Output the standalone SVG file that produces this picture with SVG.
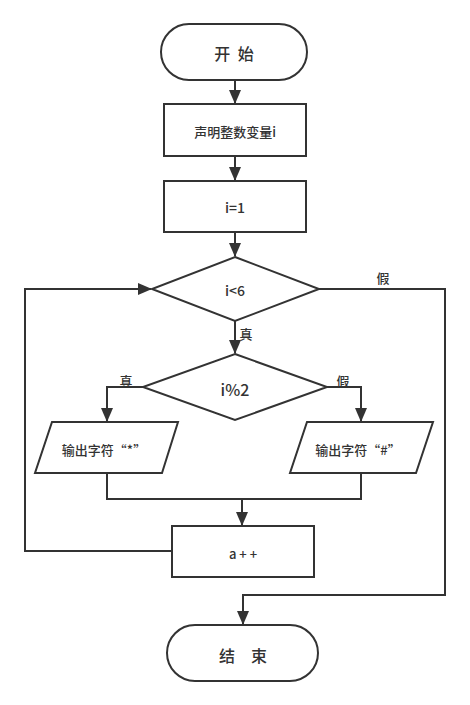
<svg xmlns="http://www.w3.org/2000/svg" width="470" height="705" viewBox="0 0 470 705">
<style>
.s{fill:#fff;stroke:#333;stroke-width:2}
.l{fill:none;stroke:#333;stroke-width:2}
.t{font-family:"Noto Sans CJK SC","Noto Sans",sans-serif;fill:#333;text-anchor:middle;dominant-baseline:central;font-weight:500}
</style>
<defs>
<marker id="a" markerUnits="userSpaceOnUse" markerWidth="14" markerHeight="12" refX="13" refY="6" orient="auto">
<path d="M0,0 L14,6 L0,12 Z" fill="#333"/>
</marker>
</defs>
<rect width="470" height="705" fill="#fff"/>
<g id="connectors">
<path class="l" d="M235,80 V103" marker-end="url(#a)"/>
<path class="l" d="M235,156 V180" marker-end="url(#a)"/>
<path class="l" d="M235,232 V256" marker-end="url(#a)"/>
<path class="l" d="M235,321 V353" marker-end="url(#a)"/>
<path class="l" d="M143,387 H107 V421" marker-end="url(#a)"/>
<path class="l" d="M327,387 H361 V421" marker-end="url(#a)"/>
<path class="l" d="M107,473 V499 H361 V473"/>
<path class="l" d="M242,499 V525" marker-end="url(#a)"/>
<path class="l" d="M172,551 H25 V289 H151" marker-end="url(#a)"/>
<path class="l" d="M319,289 H445 V595 H243 V624" marker-end="url(#a)"/>
<text class="t" x="246" y="333" font-size="13">真</text>
<text class="t" x="126" y="380" font-size="13">真</text>
<text class="t" x="343" y="380" font-size="13">假</text>
<text class="t" x="383" y="277" font-size="13">假</text>
</g>
<g id="start">
<rect class="s" x="161" y="24" width="146" height="56" rx="28"/>
<text class="t" x="235" y="53" font-size="16" letter-spacing="2">开 始</text>
</g>
<g id="declare">
<rect class="s" x="164" y="104" width="142" height="52"/>
<text class="t" x="235" y="131" font-size="13">声明整数变量i</text>
</g>
<g id="init">
<rect class="s" x="164" y="181" width="142" height="51"/>
<text class="t" x="235" y="207" font-size="14" font-weight="bold">i=1</text>
</g>
<g id="cond1">
<polygon class="s" points="235,257 319,289 235,321 152,289"/>
<text class="t" x="235" y="290" font-size="14" font-weight="bold">i&lt;6</text>
</g>
<g id="cond2">
<polygon class="s" points="235,354 327,387 235,420 143,387"/>
<text class="t" x="235" y="389" font-size="16" font-weight="bold">i%2</text>
</g>
<g id="outStar">
<polygon class="s" points="52,422 178,422 162,473 35,473"/>
<text class="t" x="104" y="449" font-size="13">输出字符“*”</text>
</g>
<g id="outHash">
<polygon class="s" points="307,422 433,422 416,473 290,473"/>
<text class="t" x="358" y="449" font-size="13">输出字符“#”</text>
</g>
<g id="inc">
<rect class="s" x="172" y="526" width="142" height="51"/>
<text class="t" x="243" y="553" font-size="13" font-weight="bold">a + +</text>
</g>
<g id="end">
<rect class="s" x="167" y="625" width="151" height="56" rx="28"/>
<text class="t" x="243" y="655" font-size="16">结　束</text>
</g>
</svg>
